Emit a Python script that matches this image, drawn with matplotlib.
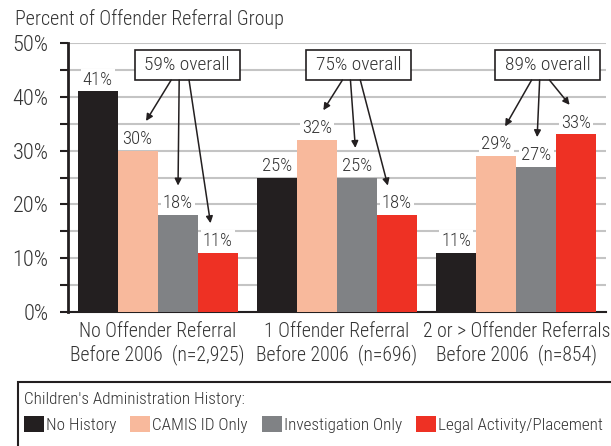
import matplotlib.pyplot as plt
import numpy as np
from matplotlib.patches import Rectangle, Patch

plt.rcParams["font.family"] = ["Roboto Condensed", "DejaVu Sans"]
plt.rcParams["font.weight"] = 300

# Data
groups = [
    "No Offender Referral\nBefore 2006  (n=2,925)",
    "1 Offender Referral\nBefore 2006  (n=696)",
    "2 or > Offender Referrals\nBefore 2006  (n=854)",
]
series = ["No History", "CAMIS ID Only", "Investigation Only", "Legal Activity/Placement"]
no_history = [41, 25, 11]
camis_id = [30, 32, 29]
investigation = [18, 25, 27]
legal = [11, 18, 33]
overall = ["59% overall", "75% overall", "89% overall"]

colors = ["#231f20", "#f8b99c", "#808285", "#ee3124"]
text_color = "#333333"

fig = plt.figure(figsize=(6.11, 4.46), dpi=100)
ax = fig.add_axes([68 / 611, 1 - 312 / 446, (606 - 68) / 611, (312 - 43) / 446])

x = np.arange(len(groups))
w = 0.223
values = [no_history, camis_id, investigation, legal]
for i, (vals, col) in enumerate(zip(values, colors)):
    pos = x + (i - 1.5) * w
    ax.bar(pos, vals, width=w, color=col, zorder=3, label=series[i])
    # value labels sit on a white patch that breaks the gridlines
    for px, v in zip(pos, vals):
        ax.text(px, v + 2.2, f"{v}%", ha="center", va="center", fontsize=13.5,
                color=text_color, zorder=4,
                bbox=dict(facecolor="white", edgecolor="none", pad=1.5))

ax.set_xlim(-0.5, 2.5)
ax.set_ylim(0, 50)
ax.set_yticks(np.arange(0, 51, 5))
ax.set_yticklabels([f"{t}%" if t % 10 == 0 else "" for t in range(0, 51, 5)])
ax.tick_params(axis="y", length=6, width=1.5, color="#231f20", pad=8,
               labelsize=16, labelcolor=text_color)
ax.set_xticks(x)
ax.set_xticklabels(groups, fontsize=14.2, color=text_color, linespacing=1.2)
ax.tick_params(axis="x", length=0, pad=7)
ax.yaxis.grid(True, color="#c4c4c4", linewidth=1.5, zorder=0)
ax.set_axisbelow(True)
for s in ["top", "right"]:
    ax.spines[s].set_visible(False)
ax.spines["left"].set_linewidth(2)
ax.spines["left"].set_color("#231f20")
ax.spines["bottom"].set_linewidth(1.5)
ax.spines["bottom"].set_color("#231f20")

# "overall" boxes with arrows down to the three history bars
box_dx = [0.165, 0.12, 0.175]
box_w, box_h, box_y = 0.585, 5.6, 43.1
start_dx = [-0.09, -0.045, 0.01]
for g in range(3):
    cx = x[g] + box_dx[g]
    ax.add_patch(Rectangle((cx - box_w / 2, box_y), box_w, box_h, facecolor="white",
                           edgecolor="#231f20", linewidth=1.2, zorder=5))
    ax.text(cx, box_y + box_h / 2, overall[g], ha="center", va="center",
            fontsize=14, color=text_color, zorder=6)
    for k, i in enumerate([1, 2, 3]):
        bx = x[g] + (i - 1.5) * w
        sx = cx + start_dx[k]
        ex = bx + 0.25 * (sx - bx)
        ey = values[i][g] + 5.5
        ax.annotate("", xy=(ex, ey), xytext=(sx, box_y),
                    arrowprops=dict(arrowstyle="-|>", color="#231f20", lw=1.1,
                                    mutation_scale=10, shrinkA=0, shrinkB=0),
                    zorder=6)

fig.text(15 / 611, 1 - 19 / 446, "Percent of Offender Referral Group", fontsize=14.4,
         color=text_color, va="center", ha="left")

# legend box runs off the right and bottom edges
fig.add_artist(Rectangle((18 / 611, -0.05), 1.0, (446 - 382) / 446 + 0.05,
                         transform=fig.transFigure, facecolor="white",
                         edgecolor="#231f20", linewidth=1.5))
handles = [Patch(facecolor=c, edgecolor="none") for c in colors]
leg = fig.legend(handles, series, loc="upper left", ncol=4, frameon=False,
                 bbox_to_anchor=(24 / 611, 1 - 392 / 446),
                 title="Children's Administration History:", alignment="left",
                 fontsize=12.3, title_fontsize=12.3, handlelength=1.18, handleheight=1.1,
                 handletextpad=0.12, columnspacing=0.8, borderpad=0.0, borderaxespad=0,
                 labelspacing=0.5)
for t in leg.get_texts():
    t.set_color(text_color)
leg.get_title().set_color(text_color)

fig.savefig("out.png", dpi=100)
